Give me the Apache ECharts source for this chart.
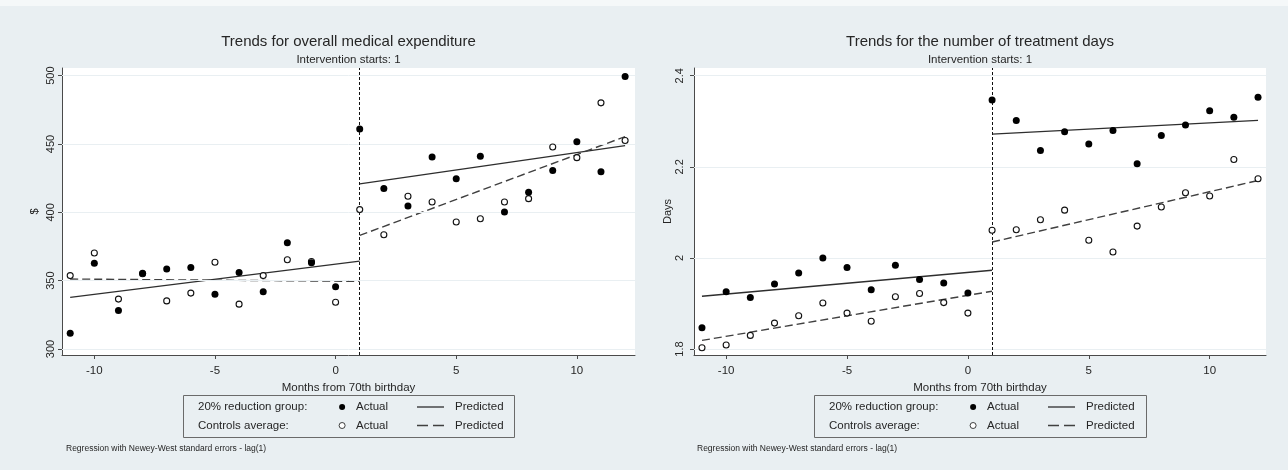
<!DOCTYPE html>
<html>
<head>
<meta charset="utf-8">
<script src="https://cdn.jsdelivr.net/npm/echarts@6/dist/echarts.min.js"></script>
<style>
html,body{margin:0;padding:0;background:#e9eff2;}
#chart{width:1288px;height:470px;}
</style>
</head>
<body>
<div id="chart"></div>
<script>
// ---------- data ----------
const months = [-11,-10,-9,-8,-7,-6,-5,-4,-3,-2,-1,0,1,2,3,4,5,6,7,8,9,10,11,12];
const expTreat = [311.6,362.8,328.1,355.4,358.6,359.6,340.1,355.9,341.9,377.8,363.1,345.6,
                  461.0,417.4,404.7,440.4,424.5,441.0,400.2,414.7,430.6,451.7,429.7,499.3];
const expCtrl  = [353.7,370.2,336.5,355.0,335.2,340.9,363.5,332.8,353.7,365.3,364.0,334.2,
                  402.0,383.6,411.8,407.6,392.9,395.3,407.6,410.0,447.8,440.0,480.1,452.5];
const daysTreat = [1.847,1.926,1.913,1.943,1.967,2.000,1.979,1.930,1.984,1.953,1.945,1.923,
                   2.347,2.302,2.236,2.277,2.250,2.280,2.207,2.269,2.292,2.323,2.309,2.353];
const daysCtrl  = [1.803,1.809,1.830,1.857,1.873,1.901,1.879,1.861,1.915,1.922,1.902,1.879,
                   2.061,2.062,2.084,2.105,2.039,2.013,2.070,2.112,2.143,2.136,2.216,2.174];
// predicted segment end points
const predPreX  = [-11, 1];
const predPostX = [1, 12];
const expTreatPredPre  = [337.7, 364.3];
const expTreatPredPost = [420.8, 448.8];
const expCtrlPredPre   = [351.2, 349.5];
const expCtrlPredPost  = [383.1, 455.4];
const daysTreatPredPre  = [1.916, 1.973];
const daysTreatPredPost = [2.272, 2.302];
const daysCtrlPredPre   = [1.819, 1.927];
const daysCtrlPredPost  = [2.035, 2.170];
const interventionStart = 1;
// ticks
const xTicks = [-10, -5, 0, 5, 10];
const expTicks = [300, 350, 400, 450, 500];
const daysTicks = [1.8, 2.0, 2.2, 2.4];
const daysTickLabels = ['1.8', '2', '2.2', '2.4'];

// ---------- helpers ----------
const zip = (xs, ys) => xs.map((x, i) => [x, ys[i]]);
const FONT = 'Liberation Sans, Arial, sans-serif';
const TXT = '#262626';
const SOLID = '#2e2e2e';
const DASH = '#404040';

function xAxisCfg(gi, min, max) {
  return {
    type: 'value', gridIndex: gi, min: min, max: max,
    name: 'Months from 70th birthday', nameLocation: 'middle', nameGap: 23,
    nameTextStyle: {fontFamily: FONT, fontSize: 11.5, color: TXT},
    axisLine: {show: true, onZero: false, lineStyle: {color: '#4a4a4a', width: 1}},
    axisTick: {show: true, length: 4, lineStyle: {color: '#4a4a4a'}, customValues: xTicks},
    axisLabel: {fontFamily: FONT, fontSize: 11.5, color: TXT, margin: 10, customValues: xTicks},
    splitLine: {show: false}
  };
}
function yAxisCfg(gi, min, max, ticks, labels, name, gap, margin) {
  return {
    type: 'value', gridIndex: gi, min: min, max: max,
    name: name, nameLocation: 'middle', nameGap: gap, nameRotate: 90,
    nameTextStyle: {fontFamily: FONT, fontSize: 11, color: TXT},
    axisLine: {show: true, onZero: false, lineStyle: {color: '#4a4a4a', width: 1}},
    axisTick: {show: true, length: 4, lineStyle: {color: '#4a4a4a'}, customValues: ticks},
    axisLabel: {fontFamily: FONT, fontSize: 11, color: TXT, rotate: 90, margin: margin,
                customValues: ticks,
                formatter: v => { const i = ticks.findIndex(t => Math.abs(t - v) < 1e-9); return i >= 0 ? labels[i] : ''; }},
    splitLine: {show: false}
  };
}
function scatterSeries(name, gi, ys, hollow) {
  return {
    type: 'scatter', name: name, xAxisIndex: gi, yAxisIndex: gi, z: 5,
    data: zip(months, ys), symbol: 'circle', symbolSize: hollow ? 6 : 7,
    itemStyle: hollow ? {color: '#ffffff', borderColor: '#111', borderWidth: 1.1, opacity: 1}
                      : {color: '#000000', opacity: 1},
    emphasis: {disabled: true}, silent: true
  };
}
function lineSeries(name, gi, xs, ys, dashed) {
  return {
    type: 'line', name: name, xAxisIndex: gi, yAxisIndex: gi, z: 3,
    data: zip(xs, ys), symbol: 'none', showSymbol: false, animation: false,
    lineStyle: dashed ? {color: DASH, width: 1.4, type: [8, 4]} : {color: SOLID, width: 1.3, type: 'solid'},
    itemStyle: {color: dashed ? DASH : SOLID},
    emphasis: {disabled: true}, silent: true
  };
}
function guideSeries(gi, ticks) {
  return {
    type: 'line', name: 'guides' + gi, xAxisIndex: gi, yAxisIndex: gi, z: 1,
    data: [], symbol: 'none', silent: true,
    markLine: {
      silent: true, symbol: ['none', 'none'], animation: false, label: {show: false},
      data: ticks.map(t => ({yAxis: t, lineStyle: {color: '#e9eff2', width: 1, type: 'solid'}}))
        .concat([{xAxis: interventionStart, lineStyle: {color: '#111', width: 1, type: [3, 2]}}])
    }
  };
}

const L = {treatA: 'Actual|L20', ctrlA: 'Actual|LC', treatP: 'Predicted|L20', ctrlP: 'Predicted|LC'};
const R = {treatA: 'Actual|R20', ctrlA: 'Actual|RC', treatP: 'Predicted|R20', ctrlP: 'Predicted|RC'};
const ICON_SOLID = 'path://M0,0h27v1.3h-27z';
const ICON_DASH = 'path://M0,0h11v1.3h-11z M16,0h11v1.3h-11z';

function legendCfg(items, left, iw, ih, pad, extra) {
  return Object.assign({
    data: items, orient: 'vertical', left: left, top: 401, itemGap: 6.5,
    itemWidth: iw, itemHeight: ih, selectedMode: false, padding: 0,
    formatter: n => n.split('|')[0],
    textStyle: {fontFamily: FONT, fontSize: 11.5, color: TXT, padding: [0, 0, 0, pad]}
  }, extra || {});
}

const chart = echarts.init(document.getElementById('chart'), null, {renderer: 'canvas'});
const option = {
  backgroundColor: '#e9eff2',
  animation: false,
  title: [
    {text: 'Trends for overall medical expenditure', subtext: 'Intervention starts: 1',
     left: 348.5, top: 34, textAlign: 'center', padding: 0, itemGap: 5,
     textStyle: {fontFamily: FONT, fontSize: 15, fontWeight: 'normal', color: TXT},
     subtextStyle: {fontFamily: FONT, fontSize: 11.5, color: TXT}},
    {text: 'Trends for the number of treatment days', subtext: 'Intervention starts: 1',
     left: 980, top: 34, textAlign: 'center', padding: 0, itemGap: 5,
     textStyle: {fontFamily: FONT, fontSize: 15, fontWeight: 'normal', color: TXT},
     subtextStyle: {fontFamily: FONT, fontSize: 11.5, color: TXT}}
  ],
  grid: [
    {left: 62, top: 68, width: 573, height: 287, show: true, backgroundColor: '#ffffff', borderWidth: 0},
    {left: 694, top: 68, width: 572, height: 287, show: true, backgroundColor: '#ffffff', borderWidth: 0}
  ],
  xAxis: [xAxisCfg(0, -11.34, 12.41), xAxisCfg(1, -11.33, 12.33)],
  yAxis: [
    yAxisCfg(0, 295.6, 505.6, expTicks, expTicks.map(String), '$', 22, 6),
    yAxisCfg(1, 1.787, 2.417, daysTicks, daysTickLabels, 'Days', 18, 9)
  ],
  legend: [
    legendCfg([L.treatA, L.ctrlA], 338.7, 14, 6, 2, {itemStyle: {borderWidth: 0.8}}),
    legendCfg([{name: L.treatP, icon: ICON_SOLID}, {name: L.ctrlP, icon: ICON_DASH}], 417, 27, 1.3, 6),
    legendCfg([R.treatA, R.ctrlA], 969.7, 14, 6, 2, {itemStyle: {borderWidth: 0.8}}),
    legendCfg([{name: R.treatP, icon: ICON_SOLID}, {name: R.ctrlP, icon: ICON_DASH}], 1048, 27, 1.3, 6)
  ],
  series: [
    guideSeries(0, expTicks),
    lineSeries(L.treatP, 0, predPreX, expTreatPredPre, false),
    lineSeries(L.treatP, 0, predPostX, expTreatPredPost, false),
    lineSeries(L.ctrlP, 0, predPreX, expCtrlPredPre, true),
    lineSeries(L.ctrlP, 0, predPostX, expCtrlPredPost, true),
    scatterSeries(L.ctrlA, 0, expCtrl, true),
    scatterSeries(L.treatA, 0, expTreat, false),

    guideSeries(1, daysTicks),
    lineSeries(R.treatP, 1, predPreX, daysTreatPredPre, false),
    lineSeries(R.treatP, 1, predPostX, daysTreatPredPost, false),
    lineSeries(R.ctrlP, 1, predPreX, daysCtrlPredPre, true),
    lineSeries(R.ctrlP, 1, predPostX, daysCtrlPredPost, true),
    scatterSeries(R.ctrlA, 1, daysCtrl, true),
    scatterSeries(R.treatA, 1, daysTreat, false)
  ],
  graphic: [
    {type: 'rect', left: 0, top: 0, shape: {width: 1288, height: 6}, style: {fill: '#f5f8f9'}, silent: true},
    {type: 'rect', shape: {x: 183.5, y: 395.5, width: 331, height: 42}, style: {fill: 'none', stroke: '#6a6a6a', lineWidth: 1}, silent: true},
    {type: 'rect', shape: {x: 814.5, y: 395.5, width: 332, height: 42}, style: {fill: 'none', stroke: '#6a6a6a', lineWidth: 1}, silent: true},
    {type: 'text', x: 198, y: 406.7, style: {text: '20% reduction group:', font: '11.5px ' + FONT, fill: TXT, verticalAlign: 'middle'}, silent: true},
    {type: 'text', x: 198, y: 425.7, style: {text: 'Controls average:', font: '11.5px ' + FONT, fill: TXT, verticalAlign: 'middle'}, silent: true},
    {type: 'text', x: 829, y: 406.7, style: {text: '20% reduction group:', font: '11.5px ' + FONT, fill: TXT, verticalAlign: 'middle'}, silent: true},
    {type: 'text', x: 829, y: 425.7, style: {text: 'Controls average:', font: '11.5px ' + FONT, fill: TXT, verticalAlign: 'middle'}, silent: true},
    {type: 'text', x: 66, y: 449, style: {text: 'Regression with Newey-West standard errors - lag(1)', font: '8.5px ' + FONT, fill: TXT, verticalAlign: 'middle'}, silent: true},
    {type: 'text', x: 697, y: 449, style: {text: 'Regression with Newey-West standard errors - lag(1)', font: '8.5px ' + FONT, fill: TXT, verticalAlign: 'middle'}, silent: true}
  ]
};
chart.setOption(option);
</script>
</body>
</html>
